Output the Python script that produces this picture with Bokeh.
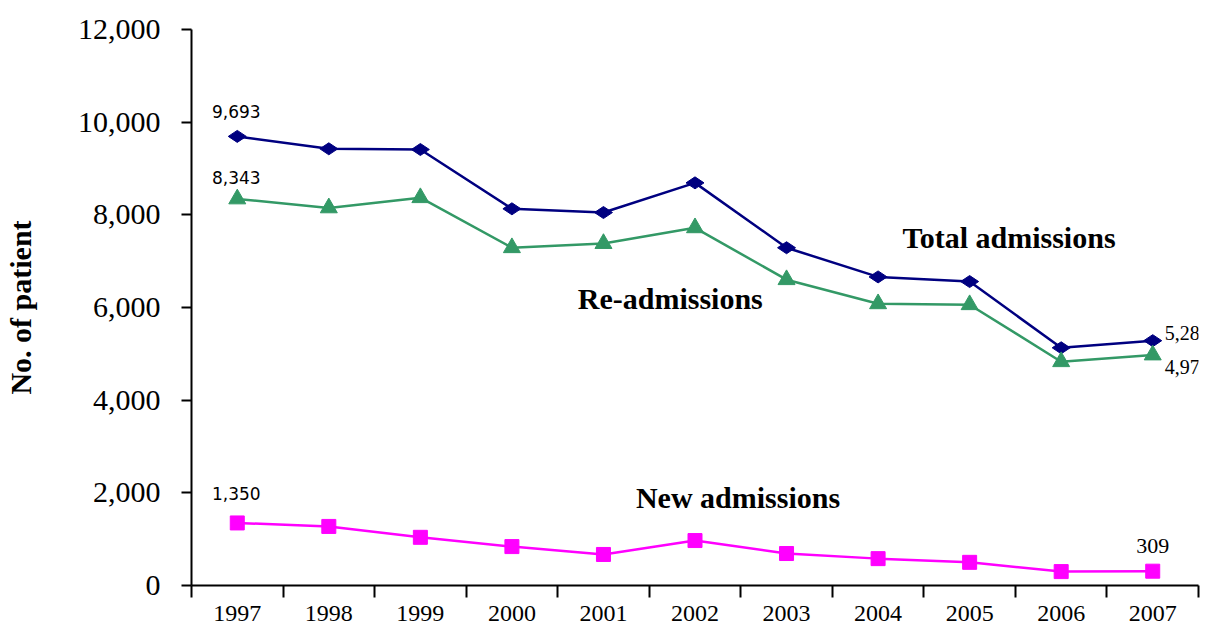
import math
from bokeh.plotting import figure
from bokeh.models import (ColumnDataSource, FixedTicker, NumeralTickFormatter,
                          LabelSet, Label, Range1d)
from bokeh.core.properties import value
from bokeh.embed import file_html
from bokeh.resources import INLINE

# ---- data ----
years = [1997, 1998, 1999, 2000, 2001, 2002, 2003, 2004, 2005, 2006, 2007]
total_adm = [9693, 9425, 9410, 8130, 8050, 8690, 7290, 6660, 6560, 5130, 5284]
re_adm = [8343, 8150, 8370, 7290, 7380, 7720, 6600, 6080, 6060, 4830, 4975]
new_adm = [1350, 1275, 1040, 840, 670, 970, 690, 580, 500, 300, 309]
y_ticks = [0, 2000, 4000, 6000, 8000, 10000, 12000]
cat_bounds = [1996.5 + i for i in range(12)]

SERIF = "Liberation Serif"
NAVY = "#000080"
GREEN = "#339966"
MAGENTA = "#FF00FF"

p = figure(width=1210, height=625, output_backend="svg",
           toolbar_location=None, x_range=Range1d(1996.5, 2007.5),
           y_range=Range1d(0, 12000), min_border_left=190, min_border_right=12,
           min_border_top=29, min_border_bottom=40)
p.background_fill_color = "white"
p.border_fill_color = "white"
p.outline_line_color = None
p.grid.visible = False

# axes
p.yaxis.ticker = FixedTicker(ticks=y_ticks)
p.yaxis.formatter = NumeralTickFormatter(format="0,0")
p.yaxis.major_label_text_font = SERIF
p.yaxis.major_label_text_font_size = "30px"
p.yaxis.major_label_text_color = "black"
p.yaxis.major_label_standoff = 21
p.yaxis.major_tick_out = 10
p.yaxis.major_tick_in = 0
p.yaxis.minor_tick_line_color = None
p.yaxis.axis_line_width = 2
p.yaxis.major_tick_line_width = 2
p.yaxis.axis_label = "No. of patient"
p.yaxis.axis_label_text_font = SERIF
p.yaxis.axis_label_text_font_style = "bold"
p.yaxis.axis_label_text_font_size = "30px"
p.yaxis.axis_label_text_color = "black"
p.yaxis.axis_label_standoff = 38

p.xaxis.ticker = FixedTicker(ticks=years, minor_ticks=cat_bounds)
p.xaxis.major_tick_line_color = None
p.xaxis.major_tick_out = 0
p.xaxis.major_tick_in = 0
p.xaxis.minor_tick_out = 12
p.xaxis.minor_tick_in = 0
p.xaxis.minor_tick_line_width = 2
p.xaxis.axis_line_width = 2
p.xaxis.major_label_text_font = SERIF
p.xaxis.major_label_text_font_size = "24px"
p.xaxis.major_label_text_color = "black"
p.xaxis.major_label_standoff = 8

# series
p.line(years, total_adm, line_color=NAVY, line_width=2.5)
p.scatter(years, total_adm, marker="diamond", size=18, angle=math.pi / 2,
          fill_color=NAVY, line_color=NAVY)
p.line(years, re_adm, line_color=GREEN, line_width=2.5)
p.scatter(years, re_adm, marker="triangle", size=17, fill_color=GREEN, line_color=GREEN)
p.line(years, new_adm, line_color=MAGENTA, line_width=2.5)
p.scatter(years, new_adm, marker="square", size=14, fill_color=MAGENTA, line_color=MAGENTA)

# value labels
def fmt(v):
    return f"{v:,}"

first = ColumnDataSource(dict(x=[years[0]] * 3,
                              y=[total_adm[0], re_adm[0], new_adm[0]],
                              t=[fmt(total_adm[0]), fmt(re_adm[0]), fmt(new_adm[0])],
                              dy=[25, 21, 29]))
p.add_layout(LabelSet(x="x", y="y", text="t", source=first, y_offset="dy",
                      text_align="center", text_baseline="middle",
                      text_font=value("DejaVu Sans"), text_font_size=value("17px"),
                      text_color="black", x_offset=-1))

p.add_layout(Label(x=years[-1], y=total_adm[-1], text=fmt(total_adm[-1]), x_offset=12,
                   y_offset=8, text_baseline="middle", text_font=SERIF,
                   text_font_size="20px", text_color="black"))
p.add_layout(Label(x=years[-1], y=re_adm[-1], text=fmt(re_adm[-1]), x_offset=12,
                   y_offset=-12, text_baseline="middle", text_font=SERIF,
                   text_font_size="20px", text_color="black"))
p.add_layout(Label(x=years[-1], y=new_adm[-1], text=fmt(new_adm[-1]), x_offset=0,
                   y_offset=25, text_align="center", text_baseline="middle",
                   text_font=SERIF, text_font_size="22px", text_color="black"))

# series names
for name, xx, yy in [("Total admissions", 2005.43, 7511),
                     ("Re-admissions", 2001.73, 6195),
                     ("New admissions", 2002.47, 1899)]:
    p.add_layout(Label(x=xx, y=yy, text=name, text_align="center", text_baseline="middle",
                       text_font=SERIF, text_font_style="bold", text_font_size="30px",
                       text_color="black"))

open("out.html", "w").write(file_html(p, INLINE))
